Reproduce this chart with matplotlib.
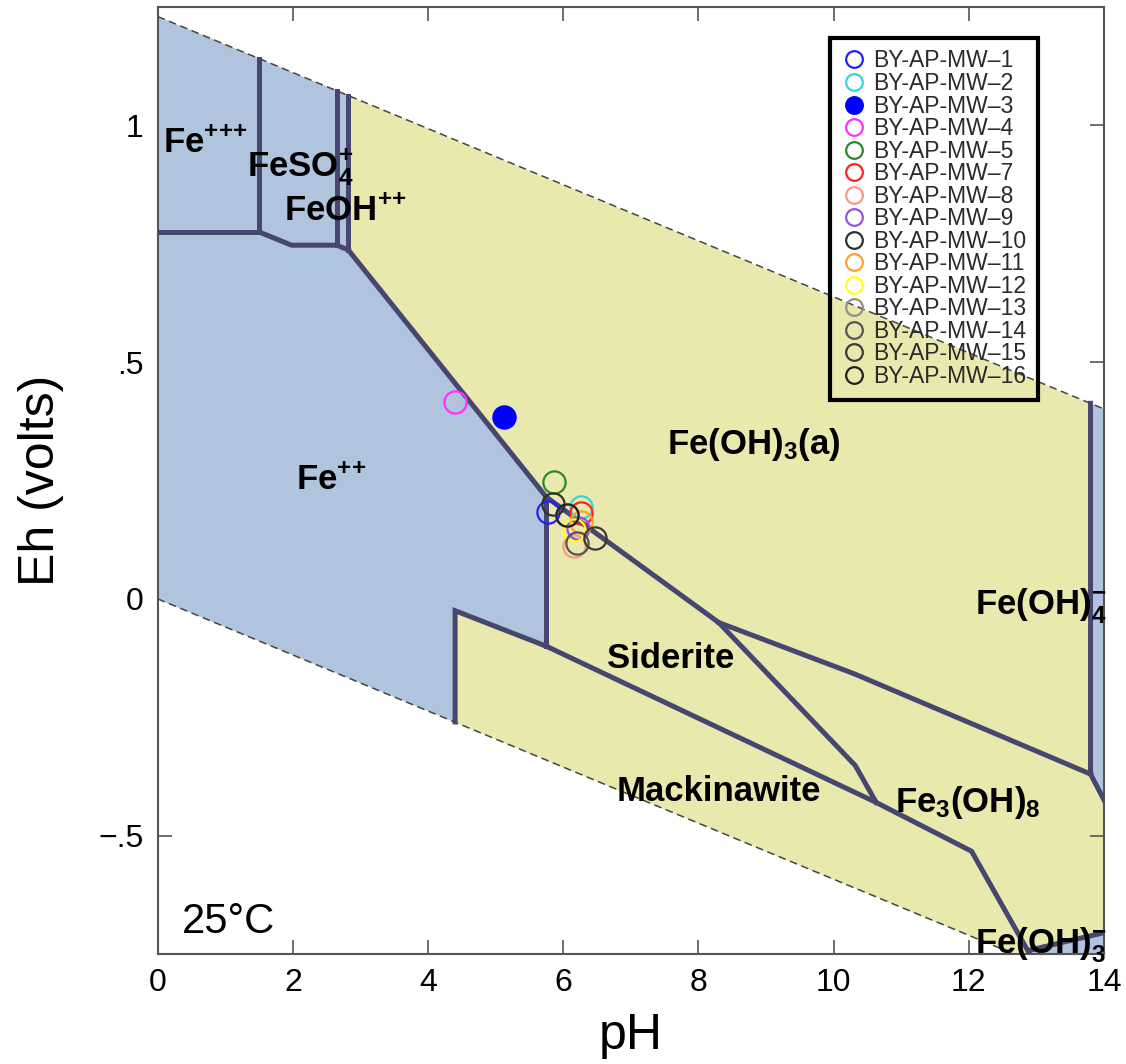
import numpy as np
import matplotlib.pyplot as plt

plt.rcParams['font.family'] = 'Liberation Sans'
plt.rcParams['mathtext.fontset'] = 'custom'
plt.rcParams['mathtext.rm'] = 'Liberation Sans'
plt.rcParams['mathtext.bf'] = 'Liberation Sans:bold'
plt.rcParams['mathtext.it'] = 'Liberation Sans:italic'

#=========================================================================================================
#Data
#=========================================================================================================
#water stability limits
water_ph = [0, 14]
water_top = [1.23, 0.401]
water_bot = [0.0, -0.829]

#aqueous fields (blue)
fe2_ph = [0, 2.82, 2.82, 5.75, 5.75, 4.40, 4.40, 0]
fe2_eh = [1.23, 1.063, 0.737, 0.215, -0.10, -0.025, -0.26, 0]
feoh4_ph = [13.8, 14, 14, 13.8]
feoh4_eh = [0.413, 0.401, -0.425, -0.37]
feoh3_ph = [12.85, 13.4, 14, 14]
feoh3_eh = [-0.75, -0.725, -0.705, -0.75]

#field boundaries
bounds = [
    ([1.5, 1.5], [1.141, 0.775]),
    ([0, 1.5], [0.775, 0.775]),
    ([1.5, 1.98, 2.65], [0.775, 0.747, 0.747]),
    ([2.65, 2.65], [1.073, 0.747]),
    ([2.65, 2.82], [0.747, 0.737]),
    ([2.82, 2.82], [1.063, 0.737]),
    ([2.82, 5.75], [0.737, 0.215]),
    ([5.75, 5.75], [0.215, -0.10]),
    ([5.75, 4.40, 4.40], [-0.10, -0.025, -0.26]),
    ([5.75, 8.3, 10.32, 10.63], [0.215, -0.05, -0.352, -0.43]),
    ([8.3, 10.3, 13.8], [-0.05, -0.158, -0.37]),
    ([5.75, 10.63, 12.04, 12.9], [-0.10, -0.43, -0.533, -0.75]),
    ([13.8, 13.8, 14.0], [0.413, -0.37, -0.425]),
    ([12.9, 13.4, 14.0], [-0.742, -0.725, -0.705]),
]

#field labels
labels = [r'$\mathbf{Fe^{{+}{+}{+}}}$', r'$\mathbf{FeSO_4^{+}}$', r'$\mathbf{FeOH^{{+}{+}}}$',
          r'$\mathbf{Fe^{{+}{+}}}$', r'$\mathbf{Fe(OH)_3(a)}$', 'Siderite', 'Mackinawite',
          r'$\mathbf{Fe_3(OH)_8}$', r'$\mathbf{Fe(OH)_4^{-}}$', r'$\mathbf{Fe(OH)_3^{-}}$']
label_ph = [0.08, 1.32, 1.87, 2.05, 7.54, 6.64, 6.79, 10.91, 12.09, 12.09]
label_eh = [0.943, 0.892, 0.80, 0.231, 0.305, -0.146, -0.426, -0.45, -0.034, -0.75]

#wells
wells = ['BY-AP-MW–1', 'BY-AP-MW–2', 'BY-AP-MW–3', 'BY-AP-MW–4', 'BY-AP-MW–5', 'BY-AP-MW–7',
         'BY-AP-MW–8', 'BY-AP-MW–9', 'BY-AP-MW–10', 'BY-AP-MW–11', 'BY-AP-MW–12', 'BY-AP-MW–13',
         'BY-AP-MW–14', 'BY-AP-MW–15', 'BY-AP-MW–16']
ph = [5.77, 6.27, 5.12, 4.40, 5.86, 6.26, 6.16, 6.22, 5.85, 6.27, 6.16, 6.06, 6.20, 6.47, 6.06]
eh = [0.184, 0.193, 0.384, 0.415, 0.246, 0.182, 0.111, 0.150, 0.201, 0.162, 0.145, 0.178, 0.118, 0.129, 0.178]
colors = ['#2020ff', '#30d8d8', '#0000ff', '#ff30ff', '#2a8a2a', '#ff2020', '#f59a8a', '#9a50e0',
          '#303030', '#ffa030', '#ffff20', '#909090', '#555555', '#3a3a3a', '#202020']
filled = [False, False, True] + [False] * 12

#=========================================================================================================
#Plot
#=========================================================================================================
fig = plt.figure(figsize=(11.26, 10.64), dpi=100)
ax = fig.add_axes([0.140, 0.1034, 0.8405, 0.89])

ax.fill_between(water_ph, water_bot, water_top, color='#e9e8ad', lw=0, zorder=1)
for xs, ys in [(fe2_ph, fe2_eh), (feoh4_ph, feoh4_eh), (feoh3_ph, feoh3_eh)]:
    ax.fill(xs, ys, color='#b0c4de', lw=0, zorder=2)

ax.plot(water_ph, water_top, color='#444444', lw=1.1, ls=(0, (5, 3)), zorder=3)
ax.plot(water_ph, water_bot, color='#444444', lw=1.1, ls=(0, (5, 3)), zorder=3)

for xs, ys in bounds:
    ax.plot(xs, ys, color='#46466f', lw=3.6, solid_joinstyle='miter', zorder=4)

for s, x, y in zip(labels, label_ph, label_eh):
    ax.text(x, y, s, fontsize=25, fontweight='bold', ha='left', va='baseline', zorder=5)
ax.text(0.355, -0.705, '25°C', fontsize=30, ha='left', va='baseline', zorder=5)

for i in range(len(wells)):
    ax.plot(ph[i], eh[i], 'o', ms=16, mew=1.6, mec=colors[i],
            mfc=colors[i] if filled[i] else 'none', label=wells[i], zorder=6)

leg = ax.legend(loc='upper left', bbox_to_anchor=(830 / 1126, 1 - 38 / 1064), bbox_transform=fig.transFigure,
                borderaxespad=0, fontsize=16.5, labelspacing=-0.02, markerscale=0.75, handletextpad=0.3,
                handlelength=1.1, borderpad=0.5, fancybox=False, framealpha=1, facecolor='none',
                edgecolor='black')
leg.get_frame().set_linewidth(3)
for t in leg.get_texts():
    t.set_color('#2a2a2a')

ax.set_xlim(0, 14)
ax.set_ylim(-0.75, 1.25)
ax.set_xticks(range(0, 15, 2))
ax.set_yticks([-0.5, 0, 0.5, 1])
ax.set_yticklabels(['\u2212.5', '0', '.5', '1'])
ax.tick_params(direction='in', length=10, width=1.2, color='#555555', top=True, right=True,
               labelsize=23, pad=10)
for sp in ax.spines.values():
    sp.set_color('#555555')
    sp.set_linewidth(1.5)

ax.set_xlabel('pH', fontsize=36, labelpad=11)
ax.set_ylabel('Eh (volts)', fontsize=36, labelpad=25)

plt.savefig('out.png')
